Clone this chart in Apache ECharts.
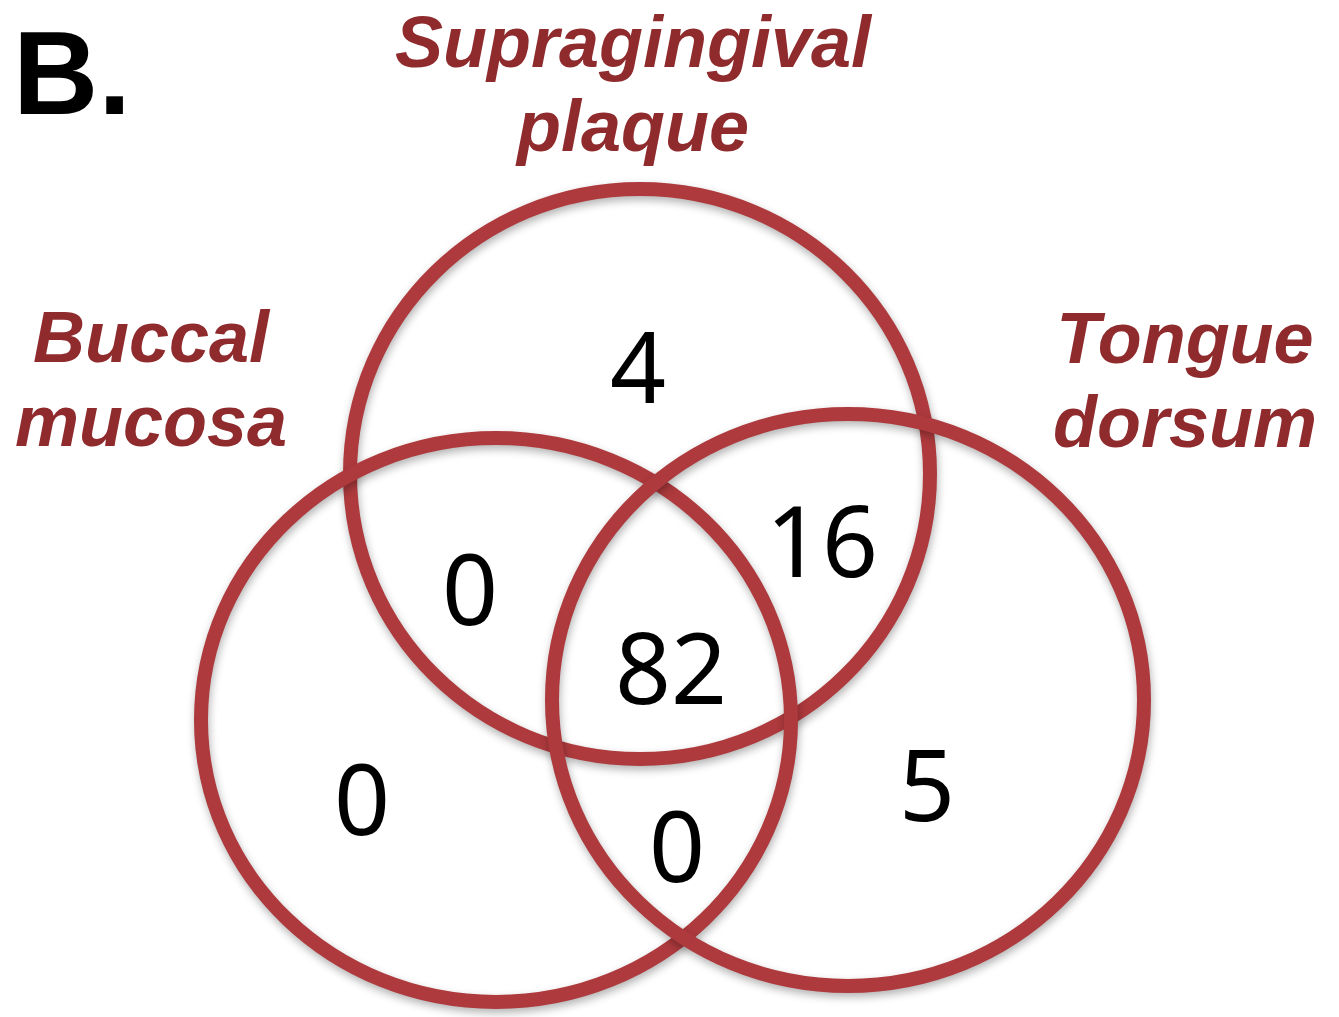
<!DOCTYPE html>
<html>
<head>
<meta charset="utf-8">
<script src="https://cdn.jsdelivr.net/npm/echarts@6/dist/echarts.min.js"></script>
<style>
  html, body { margin: 0; padding: 0; background: #fff; }
  #venn { width: 1339px; height: 1017px; }
</style>
</head>
<body>
<div id="venn"></div>
<script>
// sets and region counts
const setNames = ['Supragingival\nplaque', 'Buccal\nmucosa', 'Tongue\ndorsum'];
const regionNames = ['Supragingival only', 'Supragingival & Buccal', 'Supragingival & Tongue',
  'All three', 'Buccal only', 'Buccal & Tongue', 'Tongue only'];
const regionCounts = [4, 0, 16, 82, 0, 0, 5];

// layout (plot units = pixels of the page)
const circleCx = [640, 496, 848];
const circleCy = [474, 720, 700];
const circleRx = [290, 295, 296];
const circleRy = [285, 282, 286];
const setLabelX = [633, 151, 1185];
const setLabelY = [89, 384, 385];
const regionX = [638, 470, 822, 671, 362, 677, 927];
const regionY = [375, 597, 549, 676, 807, 854, 793];

const circleColor = '#ae3a3d';
const nameColor = '#8f2a2d';

const chart = echarts.init(document.getElementById('venn'));

const circleData = circleCx.map((x, i) => [x, circleCy[i], circleRx[i] * 2, circleRy[i] * 2, setNames[i]]);
const regionData = regionX.map((x, i) => [x, regionY[i], regionCounts[i], regionNames[i]]);
const setLabelData = setLabelX.map((x, i) => [x, setLabelY[i], setNames[i]]);

const option = {
  animation: false,
  backgroundColor: '#fff',
  title: {
    text: 'B.',
    left: 8,
    top: 17,
    textStyle: {
      fontFamily: 'Liberation Sans',
      fontWeight: 'bold',
      fontSize: 118,
      color: '#000'
    }
  },
  grid: { left: 0, right: 0, top: 0, bottom: 0 },
  xAxis: { type: 'value', min: 0, max: 1339, show: false },
  yAxis: { type: 'value', min: 0, max: 1017, inverse: true, show: false },
  series: [
    {
      type: 'custom',
      name: 'circles',
      data: circleData,
      renderItem: function (params, api) {
        const c = api.coord([api.value(0), api.value(1)]);
        const s = api.size([api.value(2), api.value(3)]);
        return {
          type: 'ellipse',
          shape: { cx: c[0], cy: c[1], rx: s[0] / 2, ry: s[1] / 2 },
          style: {
            fill: 'none',
            stroke: circleColor,
            lineWidth: 14,
            shadowColor: 'rgba(0,0,0,0.3)',
            shadowBlur: 8,
            shadowOffsetX: 1,
            shadowOffsetY: 4
          }
        };
      }
    },
    {
      type: 'custom',
      name: 'setNames',
      data: setLabelData,
      renderItem: function (params, api) {
        const c = api.coord([api.value(0), api.value(1)]);
        return {
          type: 'text',
          x: c[0],
          y: c[1],
          style: {
            text: setNames[params.dataIndex],
            fill: nameColor,
            fontFamily: 'Liberation Sans',
            fontWeight: 'bold',
            fontStyle: 'italic',
            fontSize: 72,
            lineHeight: 84,
            align: 'center',
            verticalAlign: 'middle'
          }
        };
      }
    },
    {
      type: 'custom',
      name: 'counts',
      data: regionData,
      renderItem: function (params, api) {
        const c = api.coord([api.value(0), api.value(1)]);
        return {
          type: 'text',
          x: c[0],
          y: c[1],
          style: {
            text: String(regionCounts[params.dataIndex]),
            fill: '#000',
            fontFamily: 'Noto Sans',
            fontSize: 98,
            align: 'center',
            verticalAlign: 'middle'
          }
        };
      }
    }
  ]
};

chart.setOption(option);
</script>
</body>
</html>
